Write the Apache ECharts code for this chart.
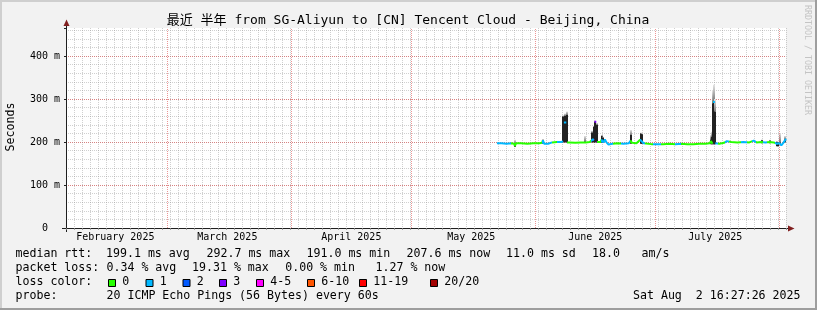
<!DOCTYPE html>
<html><head><meta charset="utf-8">
<script src="https://cdn.jsdelivr.net/npm/echarts@6/dist/echarts.min.js"></script>
<style>html,body{margin:0;padding:0;background:#f2f2f2}#c{width:817px;height:310px}</style>
</head><body><div id="c"></div>
<script>
// x values are days since 2025-02-01 00:00
const START = 2.675, END = 182.675;
const monthStartDays = [28, 59, 89, 120, 150, 181];
const monthLabelDays = [15, 43, 74, 104, 135, 165];
const monthLabels = ['February 2025', 'March 2025', 'April 2025', 'May 2025', 'June 2025', 'July 2025'];
const yTickValues = [0, 100, 200, 300, 400];
const yTickLabels = ['0  ', '100 m', '200 m', '300 m', '400 m'];

// median rtt (ms), [day, ms]; null breaks the line
const median = [
 [110.4,197],[111.6,197],[112.8,196],[114.0,197],[114.7,196],[114.9,191],[115.2,197],[116.5,197],
 [118.0,196],[119.5,197],[121.0,197],[121.7,198],[121.9,204],[122.2,196],[123.2,196],[124.2,199],
 [125.4,200],[126.6,200],[126.9,202],[127.0,null],[127.15,245],[127.75,245],[127.85,null],
 [127.9,199],[128.6,199],[130.0,198],[131.3,199],[132.6,199],[133.6,200],[134.0,204],[134.4,206],
 [134.7,204],[134.75,null],[134.8,247],[135.25,247],[135.3,null],[135.35,200],[135.7,199],[136.3,200],
 [136.6,205],[137.0,199],[137.4,206],[137.8,199],[138.3,194],[139.3,196],[140.6,197],[142.0,196],
 [143.4,197],[143.8,203],[144.2,198],[145.3,197],[146.2,205],[146.7,203],[147.1,197],[147.5,195],
 [149.0,195],[150.5,195],[152.0,195],[153.5,196],[155.0,195],[156.5,196],[158.0,195],[159.5,195],
 [161.0,196],[162.5,196],[163.6,197],[163.9,202],[164.3,196],[164.35,null],[164.4,293],[164.9,293],
 [164.95,null],[165.0,197],[166.0,196],[167.2,198],[167.9,202],[169.0,200],[170.5,199],[172.0,200],
 [173.5,199],[174.6,203],[175.3,199],[176.5,200],[177.5,199],[178.6,200],[179.6,199],[180.4,196],
 [181.0,197],[181.5,192],[182.0,198],[182.4,202],[182.675,207.6]
];

// smoke: [day, low ms, dense top ms, max ms]
const smoke = [
 [114.9,189,197,205],[121.9,196,203,207],[127.0,199,259,262],[127.4,199,261,266],[127.8,199,263,271],
 [132.4,199,201,214],[134.25,199,222,226],[134.65,199,235,238],[135.0,199,247,250],[135.3,199,240,244],
 [136.55,198,214,216],[136.85,198,210,212],[143.85,196,216,228],[146.3,196,220,222],[146.7,196,218,220],
 [163.8,195,206,216],[164.05,195,212,224],[164.45,195,290,320],[164.75,195,294,333],[165.0,195,270,300],
 [176.6,197,204,206],[178.7,197,203,205],[180.35,190,200,202],[180.55,190,199,201],[181.1,196,199,220],
 [182.4,199,206,214]
];

// loss colour of the median line, by period start (day) -> loss bucket index
const lossFrom  = [110,114.0,121.6,124.2,125.5,127.9,133.9,134.75,135.3,136.4,139.4,141.5,143.7,146.2,147.5,149.5,151.5,155,156.5,164.35,165.6,167.4,168.5,171.5,173,174.2,175.2,177,178,180];
const lossLevel = [1,0,1,0,1,0,1,3,0,1,0,1,0,1,0,1,0,1,0,1,0,1,0,1,0,1,0,1,0,1];
const lossNames  = ['0','1','2','3','4-5','6-10','11-19','20/20'];
const lossColors = ['#26ff00','#00b8ff','#0059ff','#7e00ff','#ff00ff','#ff5500','#ff0000','#a10000'];
const lossBoxX   = [108, 145.5, 182.5, 219, 256, 307, 359, 430];

const rttLegend  = [['median rtt:',15.5],['199.1 ms avg',106],['292.7 ms max',206.5],['191.0 ms min',306.5],['207.6 ms now',406.5],['11.0 ms sd',506],['18.0',592],['am/s',641.5]];
const lossLegend = [['packet loss:',15.5],['0.34 % avg',106.5],['19.31 % max',192],['0.00 % min',285.2],['1.27 % now',375.5]];
const probeLegend = [['probe:',15.5],['20 ICMP Echo Pings (56 Bytes) every 60s',106.5]];
const titleText = '最近 半年 from SG-Aliyun to [CN] Tencent Cloud - Beijing, China';
const dateText = 'Sat Aug  2 16:27:26 2025';

const MONO = '"DejaVu Sans Mono", "Noto Sans CJK SC", monospace';
const LF = '11.6px ' + MONO;
const minorGrid = 'rgba(143,143,143,0.42)';
const majorGrid = 'rgba(222,79,79,0.6)';
const axisCol = '#1f1f1f';
const arrowCol = '#801f1f';

function txt(t, x, y, font, align) {
  align = align || 'left';
  return {type:'text', x:x, y:y, silent:true,
    style:{text:t, font:font, fill:'#000', align:align, textAlign:align, verticalAlign:'middle', textVerticalAlign:'middle'}};
}
const graphics = [];
graphics.push({type:'rect', shape:{x:0,y:0,width:817,height:2}, style:{fill:'#cfcfcf'}, silent:true});
graphics.push({type:'rect', shape:{x:0,y:0,width:2,height:310}, style:{fill:'#cfcfcf'}, silent:true});
graphics.push({type:'rect', shape:{x:0,y:308,width:817,height:2}, style:{fill:'#9e9e9e'}, silent:true});
graphics.push({type:'rect', shape:{x:815,y:0,width:2,height:310}, style:{fill:'#9e9e9e'}, silent:true});
graphics.push(txt(titleText, 408, 21, '13px ' + MONO, 'center'));
graphics.push({type:'text', x:11, y:127, rotation:Math.PI/2, silent:true,
  style:{text:'Seconds', font:LF, fill:'#000', align:'center', textAlign:'center', verticalAlign:'middle', textVerticalAlign:'middle'}});
graphics.push({type:'text', x:807, y:60, rotation:-Math.PI/2, silent:true,
  style:{text:'RRDTOOL / TOBI OETIKER', font:'8.3px '+MONO, fill:'#c4c4c4', align:'center', textAlign:'center', verticalAlign:'middle', textVerticalAlign:'middle'}});
graphics.push({type:'line', shape:{x1:62,y1:228.5,x2:66,y2:228.5}, style:{stroke:axisCol,lineWidth:1}, silent:true});
graphics.push({type:'line', shape:{x1:786,y1:228.5,x2:789,y2:228.5}, style:{stroke:axisCol,lineWidth:1}, silent:true});
graphics.push({type:'line', shape:{x1:66.5,y1:228,x2:66.5,y2:232}, style:{stroke:axisCol,lineWidth:1}, silent:true});
graphics.push({type:'line', shape:{x1:66.5,y1:28,x2:66.5,y2:25}, style:{stroke:axisCol,lineWidth:1}, silent:true});
graphics.push({type:'polygon', shape:{points:[[788,225.5],[794.5,228.5],[788,231.5]]}, style:{fill:arrowCol}, silent:true});
graphics.push({type:'polygon', shape:{points:[[63.5,26],[66.5,19.5],[69.5,26]]}, style:{fill:arrowCol}, silent:true});
rttLegend.forEach(a => graphics.push(txt(a[0], a[1], 254, LF)));
lossLegend.forEach(a => graphics.push(txt(a[0], a[1], 268, LF)));
graphics.push(txt('loss color:', 15.5, 282, LF));
lossNames.forEach((n, i) => {
  graphics.push({type:'rect', shape:{x:lossBoxX[i]+0.5, y:279.5, width:7, height:7}, style:{fill:lossColors[i], stroke:'#000', lineWidth:1}, silent:true});
  graphics.push(txt(n, lossBoxX[i] + 14.3, 282, LF));
});
probeLegend.forEach(a => graphics.push(txt(a[0], a[1], 296, LF)));
graphics.push(txt(dateText, 800.5, 296, LF, 'right'));

const pieces = lossFrom.map((f, i) => ({gte:f, lt:(i < lossFrom.length-1 ? lossFrom[i+1] : 200), color:lossColors[lossLevel[i]]}));

const gridLineMinor = {show:true, lineStyle:{color:minorGrid, type:[1,1], width:1}, showMinLine:false, showMaxLine:false};
const gridLineMajor = {show:true, lineStyle:{color:majorGrid, type:[1,1], width:1}, showMinLine:false, showMaxLine:false};

const smokeGradient = new echarts.graphic.LinearGradient(0, 0, 0, 1, [{offset:0, color:'#e4e4e4'}, {offset:1, color:'#777777'}]);

const chart = echarts.init(document.getElementById('c'), null, {renderer:'canvas'});
chart.setOption({
  animation:false,
  backgroundColor:'#f2f2f2',
  grid:{left:66, right:31, top:28, bottom:82, show:true, backgroundColor:'#ffffff', borderWidth:0},
  xAxis:[{
    type:'value', min:START, max:END, interval:2,
    splitLine:gridLineMinor,
    axisLine:{show:true, onZero:false, lineStyle:{color:axisCol, width:1}},
    axisTick:{show:true, length:2, lineStyle:{color:'rgba(143,143,143,0.8)'}},
    axisLabel:{show:true, customValues:monthLabelDays, margin:4, fontFamily:'DejaVu Sans Mono', fontSize:10, color:'#000',
      formatter:v => { const i = monthLabelDays.indexOf(Math.round(v*1000)/1000); return i >= 0 ? monthLabels[i] : ''; }}
  }],
  yAxis:[{
    type:'value', min:0, max:465, interval:20,
    splitLine:gridLineMinor,
    axisLine:{show:true, lineStyle:{color:axisCol, width:1}},
    axisTick:{show:false}, axisLabel:{show:false}
  },{
    type:'value', min:0, max:465, interval:100, position:'left',
    splitLine:gridLineMajor,
    axisLine:{show:false},
    axisTick:{show:true, length:2, lineStyle:{color:axisCol}},
    axisLabel:{show:true, margin:6, fontFamily:'DejaVu Sans Mono', fontSize:10, color:'#000',
      formatter:v => { const i = yTickValues.indexOf(v); return i >= 0 ? yTickLabels[i] : ''; }}
  }],
  visualMap:{type:'piecewise', show:false, dimension:0, seriesIndex:1, pieces:pieces, outOfRange:{color:'#26ff00'}},
  series:[
    {type:'custom', silent:true, data:smoke, encode:{x:0, y:[1,2,3]},
     renderItem:(params, api) => {
       const d = api.value(0);
       const pLo = api.coord([d, api.value(1)]);
       const pDk = api.coord([d, api.value(2)]);
       const pTp = api.coord([d, api.value(3)]);
       const x = Math.round(pLo[0] - 1);
       return {type:'group', children:[
         {type:'rect', shape:{x:x, y:pTp[1], width:2, height:pDk[1]-pTp[1]}, style:{fill:smokeGradient}},
         {type:'rect', shape:{x:x, y:pDk[1], width:2, height:pLo[1]-pDk[1]}, style:{fill:'#222222'}}
       ]};
     },
     markLine:{silent:true, symbol:'none', label:{show:false}, animation:false,
       lineStyle:{color:majorGrid, type:[1,1], width:1}, data:monthStartDays.map(d => ({xAxis:d}))}},
    {type:'line', data:median, symbol:'none', showSymbol:false, connectNulls:false, silent:true,
     lineStyle:{width:2}, z:5}
  ],
  graphic:graphics
});
</script></body></html>
